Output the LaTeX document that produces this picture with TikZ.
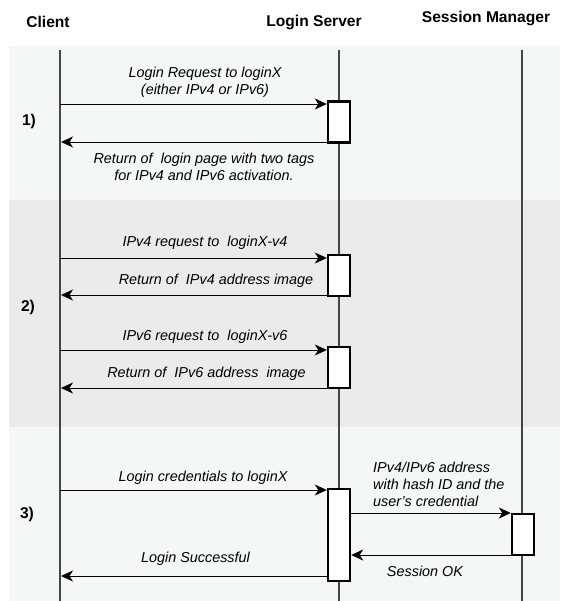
\documentclass[tikz,border=0pt]{standalone}
\usepackage{fontspec}
\setmainfont{Liberation Sans}
\usetikzlibrary{arrows.meta}
\definecolor{bandlight}{HTML}{F5F6F6}
\definecolor{banddark}{HTML}{EBEBEB}
\definecolor{lifegray}{HTML}{454545}

\begin{document}
\begin{tikzpicture}[x=1pt, y=-1pt,
  head/.style={font=\fontsize{15.6}{18}\selectfont\bfseries, inner sep=0pt},
  msgtext/.style={font=\fontsize{14.4}{17}\selectfont\itshape, inner sep=0pt, align=center},
  lifeline/.style={lifegray, line width=1.2pt},
  activation/.style={draw=black, fill=white, line width=2.4pt, minimum width=22pt, inner sep=0pt},
  msg/.style={black, line width=0.9pt, -{Stealth[length=12pt,width=11pt,inset=3.5pt]}}]
\useasboundingbox (0,0) rectangle (560,601);
% bands
\fill[bandlight] (9,46) rectangle (560,200);
\fill[banddark] (9,200) rectangle (560,427);
\fill[bandlight] (9,427) rectangle (560,601);
% headers
\node[head] (client) at (48, 22){Client};
\node[head] (server) at (314, 23){Login Server};
\node[head] (manager) at (486, 19){Session Manager};
\node[head] (step1) at (29, 121){1)};
\node[head] (step2) at (28, 307){2)};
\node[head] (step3) at (27, 514){3)};
% lifelines
\coordinate (clientTop) at (60, 50);
\coordinate (clientEnd) at (60, 601);
\coordinate (serverTop) at (339, 50);
\coordinate (serverEnd) at (339, 601);
\coordinate (managerTop) at (522, 50);
\coordinate (managerEnd) at (522, 601);
\draw[lifeline] (clientTop) -- (clientEnd);
\draw[lifeline] (serverTop) -- (serverEnd);
\draw[lifeline] (managerTop) -- (managerEnd);
% activations
\node[activation, minimum height=41pt] (act1) at (339, 122){};
\node[activation, minimum height=41pt] (act2) at (339, 275.5){};
\node[activation, minimum height=41pt] (act3) at (339, 367.5){};
\node[activation, minimum height=92pt] (act4) at (339, 535){};
\node[activation, minimum height=41pt] (act5) at (523, 534.5){};
% message ends on the client lifeline
\coordinate (m1) at (60, 104);
\coordinate (m2) at (61, 142);
\coordinate (m3) at (60, 258);
\coordinate (m4) at (61, 295);
\coordinate (m5) at (60, 350);
\coordinate (m6) at (61, 388);
\coordinate (m7) at (60, 490);
\coordinate (m10) at (61, 576);
\coordinate (m8) at (0, 513);
\coordinate (m9) at (0, 555);
% messages
\draw[msg] (m1) -- (m1 -| act1.west);
\draw[msg] (m2 -| act1.west) -- (m2);
\draw[msg] (m3) -- (m3 -| act2.west);
\draw[msg] (m4 -| act2.west) -- (m4);
\draw[msg] (m5) -- (m5 -| act3.west);
\draw[msg] (m6 -| act3.west) -- (m6);
\draw[msg] (m7) -- (m7 -| act4.west);
\draw[msg] (m8 -| act4.east) -- (m8 -| act5.west);
\draw[msg] (m9 -| act5.west) -- (m9 -| act4.east);
\draw[msg] (m10 -| act4.west) -- (m10);
% labels
\node[msgtext] (req) at (205, 82){Login Request to loginX\\(either IPv4 or IPv6)};
\node[msgtext] (page) at (204, 167){Return of\ \ login page with two tags\\for IPv4 and IPv6 activation.};
\node[msgtext] (req4) at (205, 243){IPv4 request to\ \ loginX-v4};
\node[msgtext] (ret4) at (216, 281){Return of\ \ IPv4 address image};
\node[msgtext] (req6) at (205, 337){IPv6 request to\ \ loginX-v6};
\node[msgtext] (ret6) at (206.5, 374){Return of\ \ IPv6 address\ \ image};
\node[msgtext] (cred) at (203, 478){Login credentials to loginX};
\node[msgtext, align=left, anchor=west] (hash) at (373, 484.5){IPv4/IPv6 address\\with hash ID and the\\user's credential};
\node[msgtext] (ok) at (425, 571){Session OK};
\node[msgtext] (success) at (195.5, 559){Login Successful};
\end{tikzpicture}
\end{document}
